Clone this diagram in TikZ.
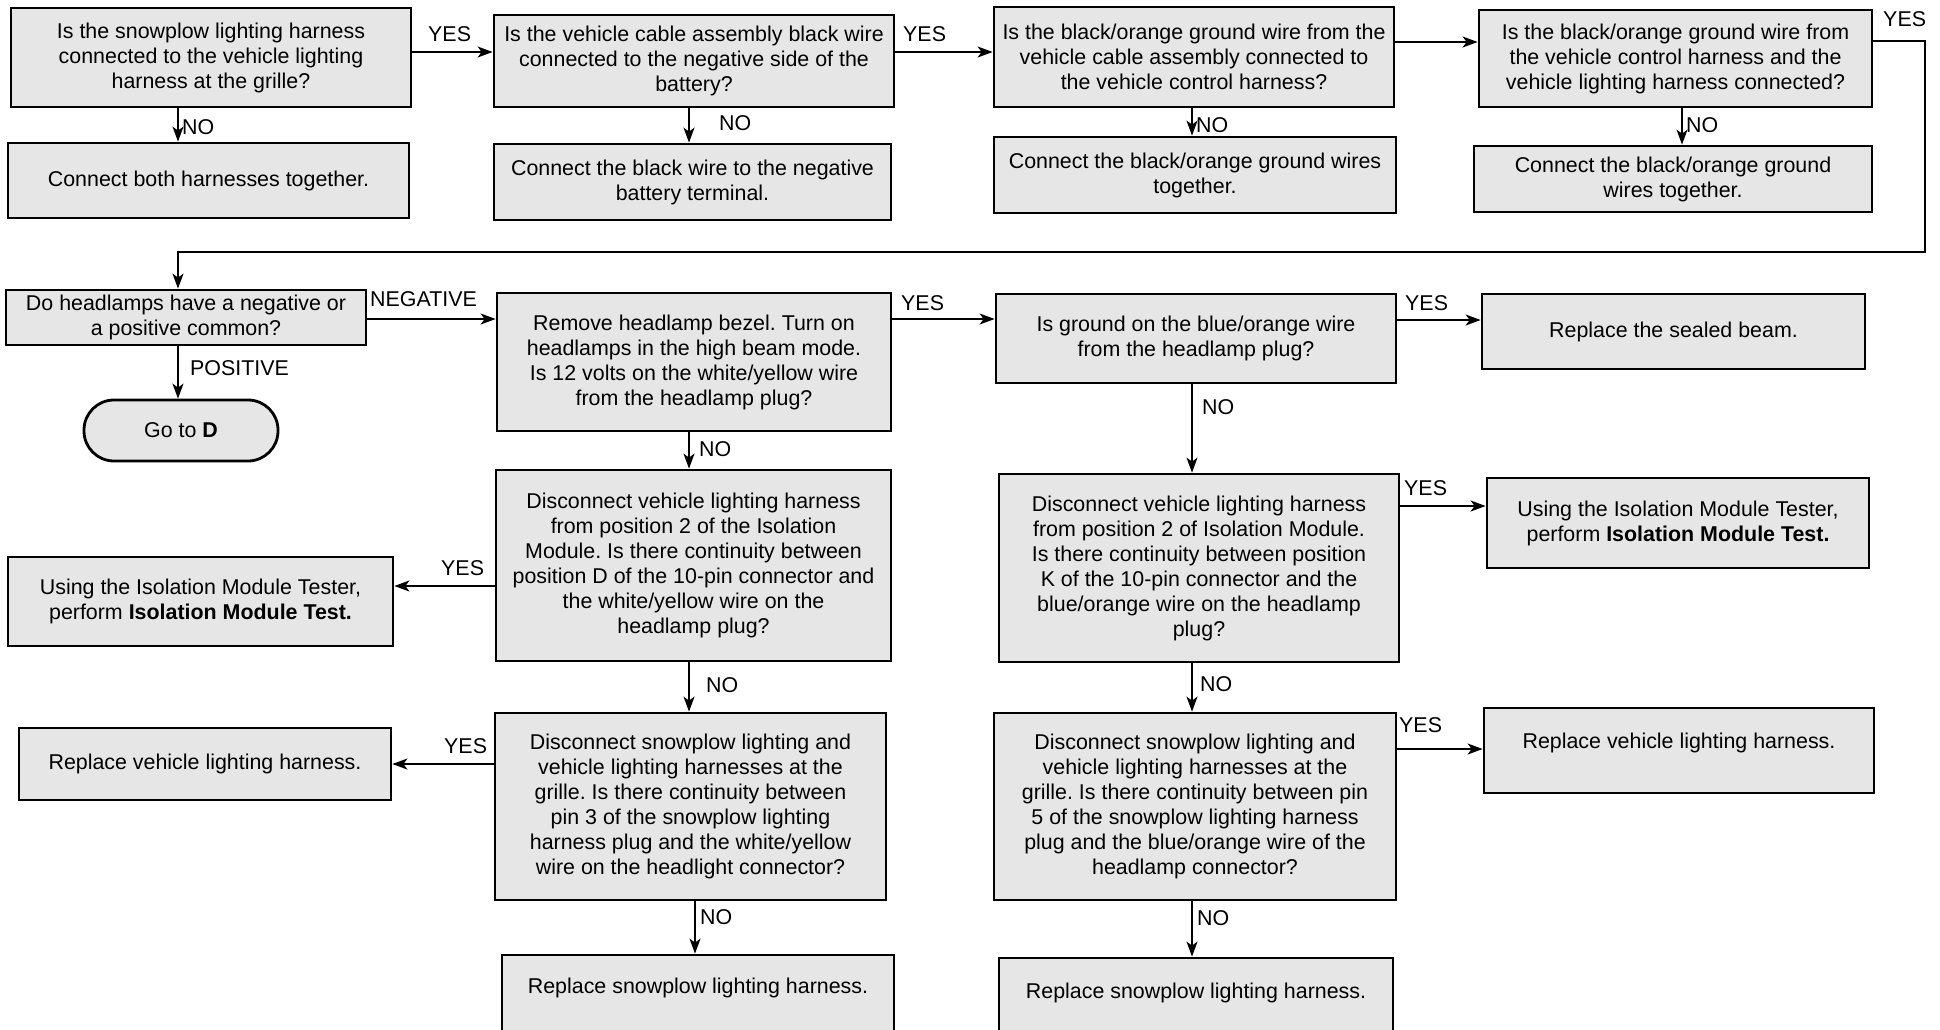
\documentclass[tikz,border=0pt]{standalone}
\usepackage{fontspec}
\setmainfont{Liberation Sans}
\usetikzlibrary{arrows.meta}
\definecolor{boxgray}{RGB}{230,230,230}
\frenchspacing
\tikzset{
  box/.style={draw=black, line width=2.8pt, fill=boxgray, align=center, inner sep=0pt,
    font=\fontsize{21.4}{25}\selectfont},
  txt/.style={align=center, inner sep=0pt, font=\fontsize{21.4}{25}\selectfont},
  lbl/.style={anchor=west, inner sep=0pt, font=\fontsize{21.4}{25}\selectfont},
  arr/.style={line width=1.6pt, -{Stealth[length=15pt,width=11pt,inset=4pt]}},
  ln/.style={line width=1.6pt}
}
\begin{document}
\begin{tikzpicture}[x=1pt,y=-1pt]
\useasboundingbox[fill=white] (0,0) rectangle (1940,1029);
% row 1
\node[box, minimum width=400pt, minimum height=99pt] (A1) at (211,57.5) {Is the snowplow lighting harness\\connected to the vehicle lighting\\harness at the grille?};
\node[box, minimum width=401pt, minimum height=75pt] (A1N) at (208.5,180.5) {Connect both harnesses together.};
\node[box, minimum width=400pt, minimum height=92pt] (A2) at (694,61) {Is the vehicle cable assembly black wire\\connected to the negative side of the\\battery?};
\node[box, minimum width=397pt, minimum height=76pt] (A2N) at (692.5,182) {Connect the black wire to the negative\\battery terminal.};
\node[box, minimum width=400pt, minimum height=100pt] (A3) at (1194,57) {Is the black/orange ground wire from the\\vehicle cable assembly connected to\\the vehicle control harness?};
\node[box, minimum width=402pt, minimum height=76pt] (A3N) at (1195,175) {Connect the black/orange ground wires\\together.};
\node[box, minimum width=393pt, minimum height=97pt] (A4) at (1675.5,58.5) {Is the black/orange ground wire from\\the vehicle control harness and the\\vehicle lighting harness connected?};
\node[box, minimum width=398pt, minimum height=66pt] (A4N) at (1673,179) {Connect the black/orange ground\\wires together.};
% row 2
\node[box, minimum width=360pt, minimum height=55pt] (B1) at (186,317.5) {Do headlamps have a negative or\\a positive common?};
\node[box, minimum width=194pt, minimum height=61pt, rounded corners=30pt] (GoD) at (181,430.5) {Go to \textbf{D}};
\node[box, minimum width=394pt, minimum height=138pt] (B2) at (694,362) {Remove headlamp bezel. Turn on\\headlamps in the high beam mode.\\Is 12 volts on the white/yellow wire\\from the headlamp plug?};
\node[box, minimum width=400pt, minimum height=89pt] (B3) at (1196,338.5) {Is ground on the blue/orange wire\\from the headlamp plug?};
\node[box, minimum width=383pt, minimum height=75pt] (B4) at (1673.5,331.5) {Replace the sealed beam.};
% row 3
\node[box, minimum width=385pt, minimum height=89pt] (C1) at (200.5,601.5) {Using the Isolation Module Tester,\\perform \textbf{Isolation Module Test.}};
\node[box, minimum width=395pt, minimum height=191pt] (C2) at (693.5,565.5) {Disconnect vehicle lighting harness\\from position 2 of the Isolation\\Module. Is there continuity between\\position D of the 10-pin connector and\\the white/yellow wire on the\\headlamp plug?};
\node[box, minimum width=400pt, minimum height=188pt] (C3) at (1199,568) {Disconnect vehicle lighting harness\\from position 2 of Isolation Module.\\Is there continuity between position\\K of the 10-pin connector and the\\blue/orange wire on the headlamp\\plug?};
\node[box, minimum width=382pt, minimum height=90pt] (C4) at (1678,523) {Using the Isolation Module Tester,\\perform \textbf{Isolation Module Test.}};
% row 4
\node[box, minimum width=372pt, minimum height=72pt] (D1) at (205,764) {Replace vehicle lighting harness.};
\node[box, minimum width=391pt, minimum height=187pt] (D2) at (690.5,806.5) {Disconnect snowplow lighting and\\vehicle lighting harnesses at the\\grille. Is there continuity between\\pin 3 of the snowplow lighting\\harness plug and the white/yellow\\wire on the headlight connector?};
\node[box, minimum width=402pt, minimum height=187pt] (D3) at (1195,806.5) {Disconnect snowplow lighting and\\vehicle lighting harnesses at the\\grille. Is there continuity between pin\\5 of the snowplow lighting harness\\plug and the blue/orange wire of the\\headlamp connector?};
\node[box, minimum width=390pt, minimum height=85pt] (D4) at (1679,750.5) {};
\node[txt] (D4t) at ([yshift=8pt]D4.center) {Replace vehicle lighting harness.};
% row 5
\node[box, minimum width=392pt, minimum height=85pt] (E2) at (698,997.5) {};
\node[txt] (E2t) at (698,988) {Replace snowplow lighting harness.};
\node[box, minimum width=394pt, minimum height=82pt] (E3) at (1196,999) {};
\node[txt] (E3t) at (1196,993) {Replace snowplow lighting harness.};

% helper coordinates
\coordinate (xa1) at (178,0);
\coordinate (xa2) at (689,0);
\coordinate (xa3) at (1192,0);
\coordinate (xa4) at (1682,0);
\coordinate (xd2) at (695,0);
\coordinate (ya12) at (0,52);
\coordinate (ya34) at (0,42);
\coordinate (yloop) at (0,41);
\coordinate (ybrow) at (0,319);
\coordinate (yb34) at (0,320);
\coordinate (yc2) at (0,586);
\coordinate (yc3) at (0,506);
\coordinate (yd2) at (0,764);
\coordinate (yd3) at (0,749);
\coordinate (loopR) at (1925,41);
\coordinate (loopB) at (1925,252);

% row 1 connectors
\draw[arr] (A1.east |- ya12) -- (A2.west |- ya12);
\draw[arr] (A2.east |- ya12) -- (A3.west |- ya12);
\draw[arr] (A3.east |- ya34) -- (A4.west |- ya34);
\draw[arr] (A1.south -| xa1) -- (A1N.north -| xa1);
\draw[arr] (A2.south -| xa2) -- (A2N.north -| xa2);
\draw[arr] (A3.south -| xa3) -- (A3N.north -| xa3);
\draw[arr] (A4.south -| xa4) -- (A4N.north -| xa4);
\draw[arr] (A4.east |- yloop) -- (loopR) -- (loopB) -- (loopB -| xa1) -- (B1.north -| xa1);
% row 2
\draw[arr] (B1.east |- ybrow) -- (B2.west |- ybrow);
\draw[arr] (B2.east |- ybrow) -- (B3.west |- ybrow);
\draw[arr] (B3.east |- yb34) -- (B4.west |- yb34);
\draw[arr] (B1.south -| xa1) -- (GoD.north -| xa1);
\draw[arr] (B2.south -| xa2) -- (C2.north -| xa2);
\draw[arr] (B3.south -| xa3) -- (C3.north -| xa3);
% row 3
\draw[arr] (C2.west |- yc2) -- (C1.east |- yc2);
\draw[arr] (C3.east |- yc3) -- (C4.west |- yc3);
\draw[arr] (C2.south -| xa2) -- (D2.north -| xa2);
\draw[arr] (C3.south -| xa3) -- (D3.north -| xa3);
% row 4
\draw[arr] (D2.west |- yd2) -- (D1.east |- yd2);
\draw[arr] (D3.east |- yd3) -- (D4.west |- yd3);
\draw[arr] (D2.south -| xd2) -- (E2.north -| xd2);
\draw[arr] (D3.south -| xa3) -- (E3.north -| xa3);

% labels
\node[lbl] (l1) at (428,34) {YES};
\node[lbl] (l2) at (903,34) {YES};
\node[lbl] (l3) at (182,127) {NO};
\node[lbl] (l4) at (719,123) {NO};
\node[lbl] (l5) at (1196,125) {NO};
\node[lbl] (l6) at (1686,125) {NO};
\node[lbl] (l7) at (1883,19) {YES};
\node[lbl] (l8) at (370,299) {NEGATIVE};
\node[lbl] (l9) at (190,368) {POSITIVE};
\node[lbl] (l10) at (901,303) {YES};
\node[lbl] (l11) at (1405,303) {YES};
\node[lbl] (l12) at (699,449) {NO};
\node[lbl] (l13) at (1202,407) {NO};
\node[lbl] (l14) at (441,568) {YES};
\node[lbl] (l15) at (1404,488) {YES};
\node[lbl] (l16) at (706,685) {NO};
\node[lbl] (l17) at (1200,684) {NO};
\node[lbl] (l18) at (444,746) {YES};
\node[lbl] (l19) at (1399,725) {YES};
\node[lbl] (l20) at (700,917) {NO};
\node[lbl] (l21) at (1197,918) {NO};
\end{tikzpicture}
\end{document}
